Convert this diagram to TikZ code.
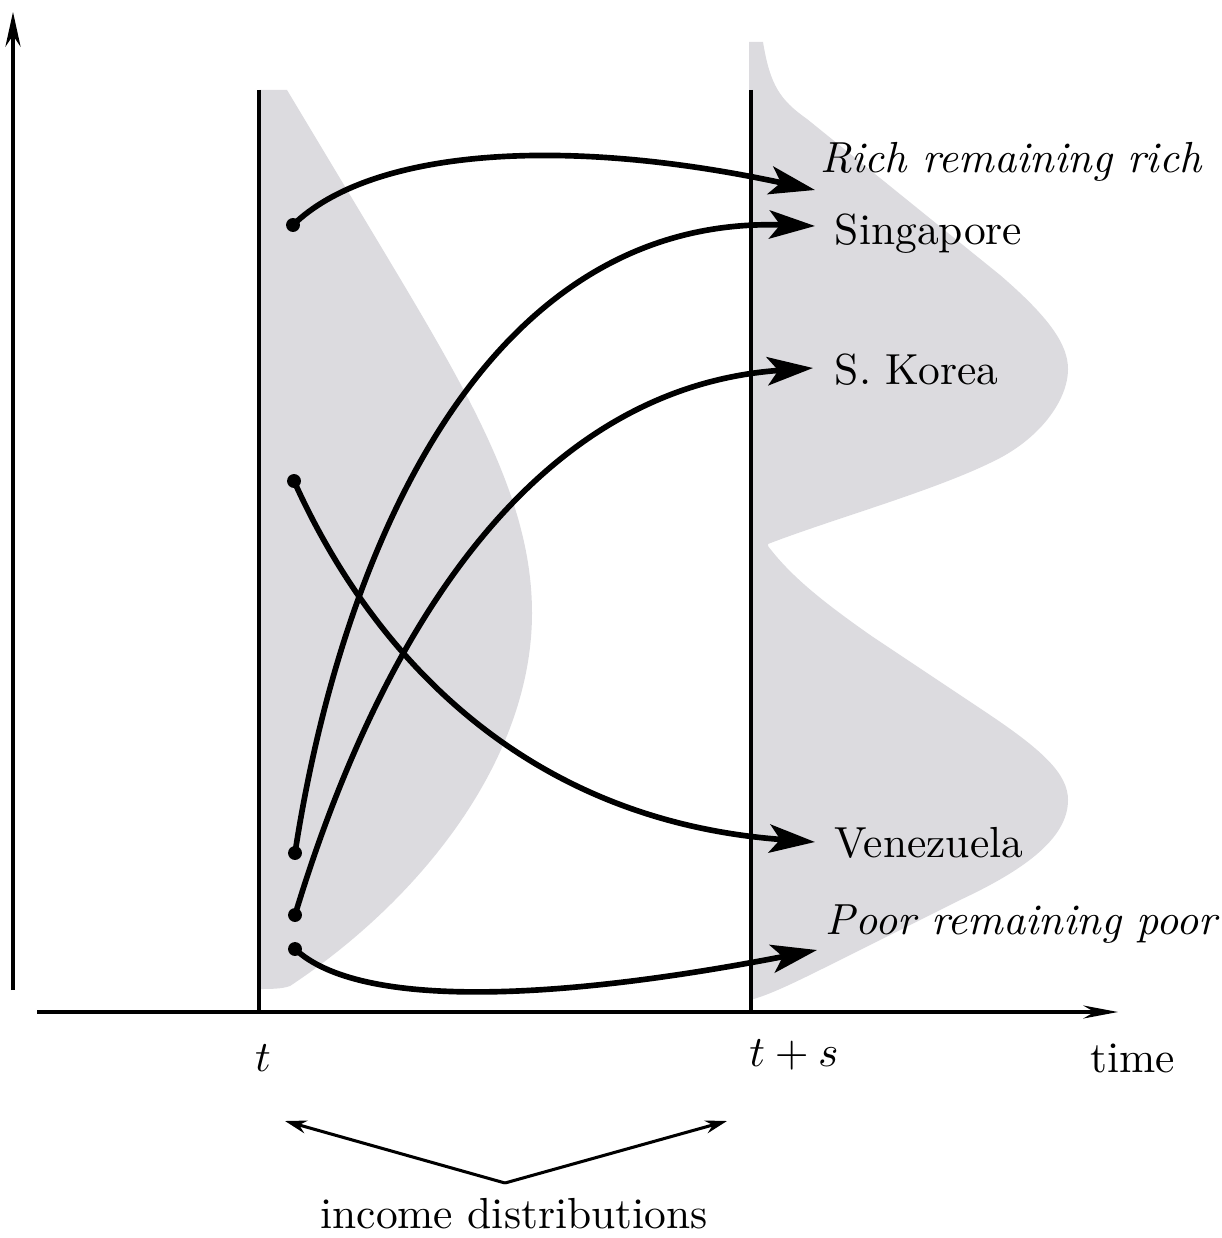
\documentclass[tikz,border=0pt]{standalone}
\usetikzlibrary{arrows.meta}
\definecolor{distgray}{RGB}{220,219,223}
\begin{document}
\begin{tikzpicture}[x=0.23pt,y=-0.23pt,
  flow/.style={line width=1.3pt,-{Stealth[length=10.5pt,width=6.5pt,inset=2.5pt]}},
  axisline/.style={line width=0.7pt},
  vline/.style={line width=0.7pt,-{Stealth[length=5pt,width=3pt]}},
  dot/.style={circle,fill=black,inner sep=0pt,minimum size=3.2pt},
  lab/.style={anchor=base west,inner sep=0pt},
  clab/.style={anchor=base,inner sep=0pt},
]
\useasboundingbox (0,0) rectangle (1222,1238);

% income distributions (shaded)
\fill[distgray] (259,90) -- (287,90) -- (380,245)
  .. controls (470,395) and (532,500) .. (532,613)
  .. controls (532,760) and (420,900) .. (290,986)
  .. controls (282,989) and (270,989) .. (259,989) -- cycle;
\fill[distgray] (749,42) -- (763,42)
  .. controls (770,85) and (780,100) .. (807,119) -- (1000,275)
  .. controls (1050,318) and (1068,345) .. (1068,369)
  .. controls (1068,400) and (1040,440) .. (990,463)
  .. controls (930,492) and (830,520) .. (768,544)
  -- (768,546)
  .. controls (790,575) and (820,600) .. (873,637) -- (990,715)
  .. controls (1045,752) and (1068,775) .. (1068,800)
  .. controls (1068,840) and (1020,872) .. (960,900) -- (840,960)
  .. controls (800,980) and (770,995) .. (750,1000) -- cycle;

% axes
\coordinate (yaxB) at (13,990);
\coordinate (yaxT) at (13,12);
\coordinate (xaxL) at (37,1012);
\coordinate (xaxR) at (1118,1012);
\draw[axisline,-{Stealth[length=8pt,width=3.5pt]}] (yaxB) -- (yaxT);
\draw[axisline,-{Stealth[length=8pt,width=3pt]}] (xaxL) -- (xaxR);

% time lines
\coordinate (tTop) at (259,90);
\coordinate (tBot) at (259,1012);
\coordinate (tsTop) at (751,90);
\coordinate (tsBot) at (751,1012);
\draw[axisline] (tTop) -- (tBot);
\draw[axisline] (tsTop) -- (tsBot);

% start dots
\node[dot] (rA) at (293,225) {};
\node[dot] (rB) at (294,481) {};
\node[dot] (rC) at (295,853) {};
\node[dot] (rD) at (295,915) {};
\node[dot] (rE) at (295,949) {};

% arrow tips
\coordinate (tA) at (815,190);
\coordinate (tC) at (815,226);
\coordinate (tD) at (813,368);
\coordinate (tB) at (815,842);
\coordinate (tE) at (817,950);

% labels
\node[lab] (lRich) at (820,173) {\textit{Rich remaining rich}};
\node[lab] (lSing) at (834,245) {Singapore};
\node[lab] (lKor) at (834,384) {S. Korea};
\node[lab] (lVen) at (834,857) {Venezuela};
\node[lab] (lPoor) at (825,934) {\textit{Poor remaining poor}};

% flows
\draw[flow] (rA.center) .. controls (370,150) and (560,135) .. (tA);
\draw[flow] (rC.center) .. controls (340,560) and (480,215) .. (tC);
\draw[flow] (rD.center) .. controls (360,700) and (500,390) .. (tD);
\draw[flow] (rB.center) .. controls (370,650) and (520,820) .. (tB);
\draw[flow] (rE.center) .. controls (360,1010) and (560,1000) .. (tE);

% axis labels
\node[clab] (lt) at (263,1071) {$t$};
\node[clab] (lts) at (794,1066) {$t+s$};
\node[clab] (ltime) at (1133,1072) {time};

% income distributions pointer
\node[clab] (linc) at (514,1228) {income distributions};
\coordinate (vtx) at (505,1183);
\coordinate (vL) at (285,1121);
\coordinate (vR) at (727,1121);
\draw[vline] (vtx) -- (vL);
\draw[vline] (vtx) -- (vR);
\end{tikzpicture}
\end{document}
